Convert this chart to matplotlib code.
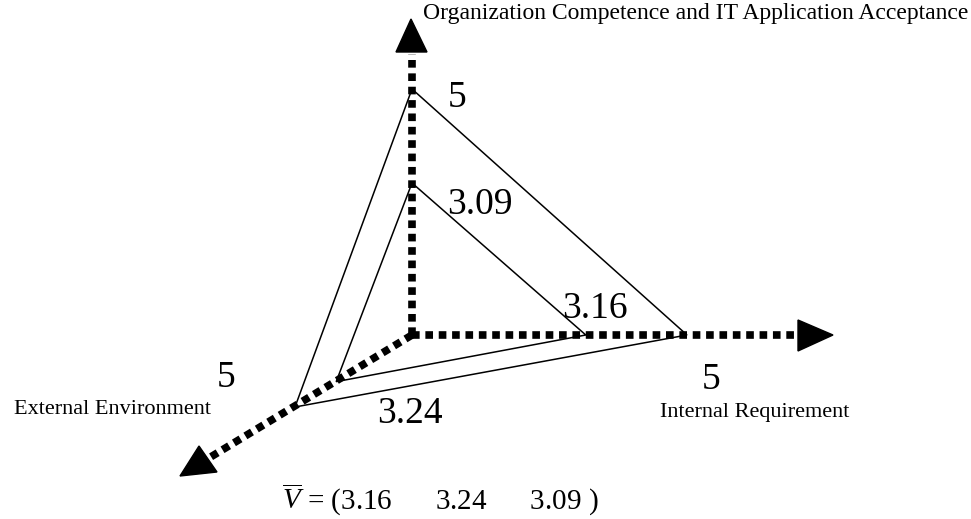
import numpy as np
import matplotlib
matplotlib.use("Agg")
import matplotlib.pyplot as plt
from matplotlib.patches import Polygon

plt.rcParams["font.family"] = ["Liberation Serif", "DejaVu Serif"]
plt.rcParams["mathtext.fontset"] = "custom"
plt.rcParams["mathtext.rm"] = "Liberation Serif"
plt.rcParams["mathtext.it"] = "Liberation Serif:italic"

# data: three dimensions, full score and the mean evaluation
axis_names = ["Internal Requirement", "External Environment",
              "Organization Competence and IT Application Acceptance"]
max_scores = [5, 5, 5]
mean_scores = [3.16, 3.24, 3.09]

# pixel layout of the sketch (origin and direction of one unit on each axis)
origin = np.array([412.0, 335.0])
unit_dirs = np.array([[55.0, 0.0],      # internal requirement -> right
                      [-23.4, 14.4],    # external environment -> down-left
                      [0.0, -49.2]])    # organization competence -> up

def project(values):
    pts = [origin + v * d for v, d in zip(values, unit_dirs)]
    return np.array(pts)

fig = plt.figure(figsize=(9.71, 5.19), dpi=100)
ax = fig.add_axes([0, 0, 1, 1])
ax.set_xlim(0, 971)
ax.set_ylim(519, 0)
ax.axis("off")

# dotted axes with filled arrow heads
axis_ends = [np.array([797.0, 335.0]), np.array([204.0, 461.0]), np.array([412.0, 54.0])]
heads = [[(798, 320), (833, 335), (798, 351)],
         [(199, 446), (180, 476), (217, 472)],
         [(396, 52), (411, 19), (427, 52)]]
for end, head in zip(axis_ends, heads):
    ax.plot([origin[0], end[0]], [origin[1], end[1]], color="black", lw=5.5,
            linestyle=(0, (1, 0.75)), dash_capstyle="butt", solid_capstyle="butt")
    ax.add_patch(Polygon(head, closed=True, color="black"))

# the two triangles
for vals in [max_scores, mean_scores]:
    pts = project(vals)
    ax.add_patch(Polygon(pts, closed=True, fill=False, edgecolor="black", lw=1.1))

# value labels
ax.text(711, 380, str(max_scores[0]), fontsize=27, ha="center", va="center")
ax.text(226, 378, str(max_scores[1]), fontsize=27, ha="center", va="center")
ax.text(457, 98, str(max_scores[2]), fontsize=27, ha="center", va="center")
ax.text(595, 309, f"{mean_scores[0]:.2f}", fontsize=27, ha="center", va="center")
ax.text(410, 414, f"{mean_scores[1]:.2f}", fontsize=27, ha="center", va="center")
ax.text(480, 205, f"{mean_scores[2]:.2f}", fontsize=27, ha="center", va="center")

# axis names
ax.text(755, 412, axis_names[0], fontsize=16, ha="center", va="center")
ax.text(112, 410, axis_names[1], fontsize=16, ha="center", va="center")
ax.text(423, 13, axis_names[2], fontsize=17, ha="left", va="center")

# mean vector
vec = "      ".join(f"{v:.2f}" for v in mean_scores)
ax.text(282, 499, r"$\overline{V}$ = (" + vec + " )", fontsize=21, ha="left", va="center")

fig.savefig("out.png", dpi=100)
